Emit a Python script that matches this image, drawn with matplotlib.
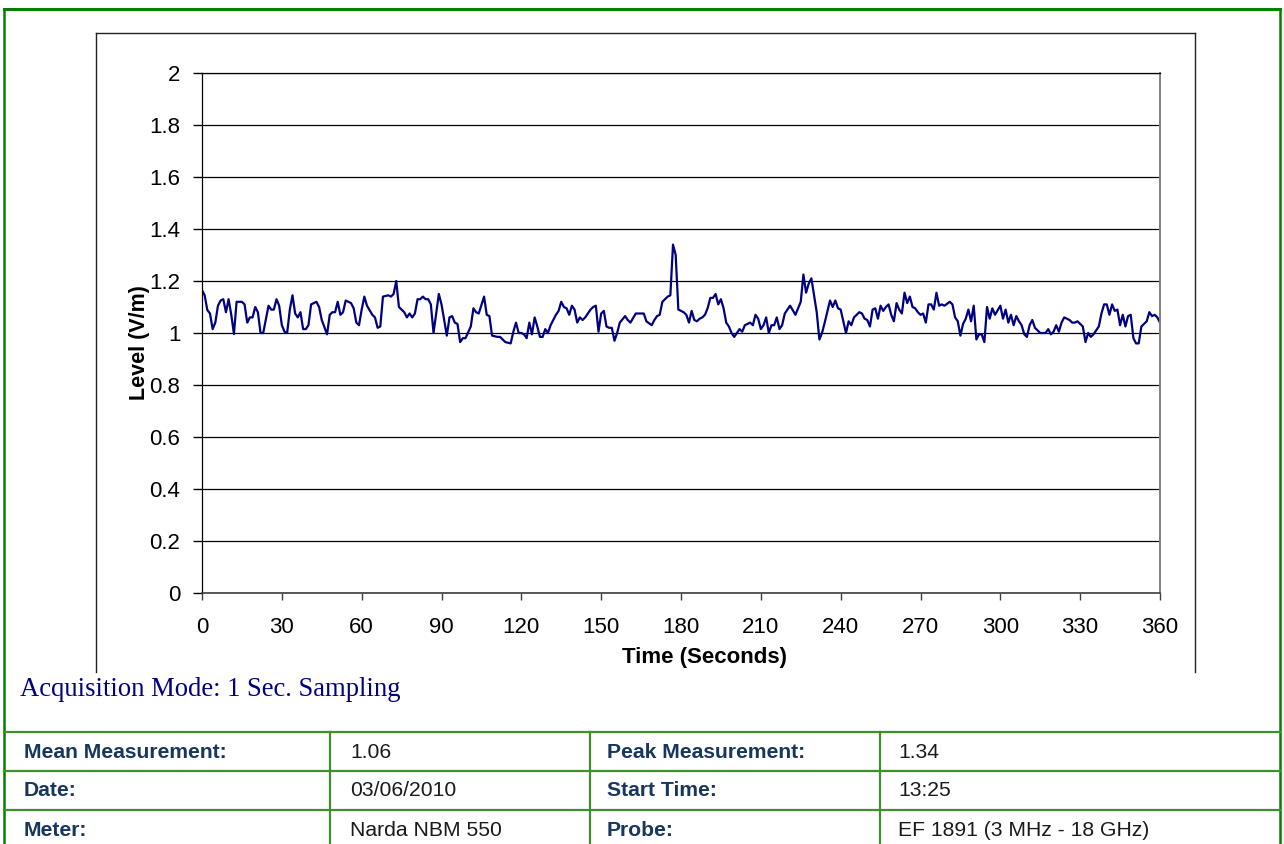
import matplotlib.pyplot as plt
from matplotlib.ticker import FuncFormatter

# field level readings (V/m) against time (s)
time_s = [0, 1, 2, 3, 4, 5, 6, 7, 8, 9, 10, 11, 12, 13, 15, 16, 17, 18, 19, 20,
          21, 22, 23, 25, 26, 27, 28, 29, 30, 31, 32, 33, 34, 35, 36, 37, 38, 39, 40, 41,
          43, 44, 45, 47, 48, 49, 50, 51, 52, 53, 54, 56, 57, 58, 59, 60, 61, 62, 64, 65,
          66, 67, 68, 70, 71, 72, 73, 74, 76, 77, 78, 79, 80, 81, 82, 83, 84, 85, 86, 87,
          89, 90, 92, 93, 94, 95, 96, 97, 98, 99, 101, 102, 103, 104, 106, 107, 108, 109, 111, 112,
          113, 114, 116, 117, 118, 119, 120, 121, 122, 123, 124, 125, 126, 127, 128, 129, 130, 131, 133, 134,
          135, 136, 137, 138, 139, 140, 141, 142, 143, 144, 145, 146, 147, 148, 149, 150, 151, 152, 153, 154,
          155, 156, 157, 159, 160, 161, 163, 164, 166, 167, 169, 170, 171, 172, 173, 175, 176, 177, 178, 179,
          180, 181, 182, 183, 184, 185, 186, 187, 188, 189, 190, 191, 192, 193, 194, 195, 196, 197, 198, 199,
          200, 201, 202, 203, 204, 206, 207, 208, 209, 210, 211, 212, 213, 214, 215, 216, 217, 218, 219, 221,
          223, 225, 226, 227, 228, 229, 230, 231, 232, 233, 234, 236, 237, 238, 239, 240, 242, 243, 244, 245,
          247, 248, 249, 250, 251, 252, 253, 254, 255, 256, 257, 258, 259, 260, 261, 262, 263, 264, 265, 266,
          267, 268, 269, 270, 271, 272, 273, 274, 275, 276, 277, 278, 279, 281, 282, 283, 284, 285, 286, 287,
          288, 289, 290, 291, 292, 293, 294, 295, 296, 297, 298, 300, 301, 302, 303, 304, 305, 306, 307, 308,
          309, 310, 311, 312, 313, 315, 317, 318, 319, 320, 321, 322, 323, 324, 326, 327, 328, 329, 331, 332,
          333, 334, 335, 336, 337, 338, 339, 340, 341, 342, 343, 344, 345, 346, 347, 348, 349, 350, 351, 352,
          353, 355, 356, 357, 358, 359, 360]
level_vm = [1.165, 1.145, 1.088, 1.075, 1.015, 1.04, 1.105, 1.125, 1.13, 1.08, 1.13, 1.07, 0.996, 1.12, 1.12, 1.11, 1.04, 1.06, 1.06, 1.10,
            1.08, 1.0, 1.0, 1.105, 1.09, 1.09, 1.13, 1.105, 1.03, 1.005, 1.0, 1.09, 1.145, 1.075, 1.06, 1.08, 1.015, 1.015, 1.03, 1.11,
            1.12, 1.10, 1.05, 0.995, 1.07, 1.08, 1.08, 1.12, 1.07, 1.08, 1.125, 1.115, 1.095, 1.04, 1.03, 1.09, 1.14, 1.105, 1.07, 1.06,
            1.02, 1.025, 1.14, 1.145, 1.14, 1.15, 1.20, 1.10, 1.08, 1.06, 1.075, 1.06, 1.075, 1.13, 1.13, 1.14, 1.13, 1.13, 1.11, 1.0,
            1.15, 1.11, 0.99, 1.06, 1.065, 1.04, 1.035, 0.965, 0.98, 0.98, 1.025, 1.095, 1.08, 1.075, 1.14, 1.07, 1.065, 0.99, 0.985, 0.985,
            0.975, 0.965, 0.96, 1.005, 1.04, 1.0, 1.0, 0.995, 0.98, 1.04, 0.995, 1.06, 1.025, 0.985, 0.985, 1.015, 1.0, 1.03, 1.07, 1.085,
            1.12, 1.10, 1.095, 1.07, 1.105, 1.09, 1.04, 1.06, 1.05, 1.06, 1.075, 1.09, 1.10, 1.105, 1.005, 1.075, 1.085, 1.025, 1.02, 1.02,
            0.97, 1.0, 1.04, 1.065, 1.05, 1.04, 1.075, 1.075, 1.075, 1.045, 1.03, 1.05, 1.065, 1.07, 1.12, 1.14, 1.145, 1.34, 1.30, 1.09,
            1.085, 1.08, 1.07, 1.04, 1.085, 1.05, 1.045, 1.055, 1.06, 1.07, 1.095, 1.135, 1.135, 1.15, 1.11, 1.13, 1.095, 1.04, 1.025, 1.0,
            0.985, 1.0, 1.015, 1.005, 1.03, 1.04, 1.03, 1.07, 1.055, 1.015, 1.03, 1.06, 1.0, 1.03, 1.03, 1.06, 1.015, 1.03, 1.075, 1.105,
            1.07, 1.12, 1.225, 1.155, 1.19, 1.21, 1.145, 1.08, 0.975, 1.0, 1.04, 1.125, 1.10, 1.125, 1.095, 1.09, 1.0, 1.045, 1.03, 1.06,
            1.08, 1.075, 1.055, 1.05, 1.025, 1.09, 1.095, 1.055, 1.105, 1.085, 1.10, 1.11, 1.07, 1.045, 1.115, 1.09, 1.075, 1.155, 1.115, 1.14,
            1.10, 1.095, 1.08, 1.07, 1.075, 1.04, 1.11, 1.11, 1.09, 1.155, 1.105, 1.11, 1.105, 1.12, 1.11, 1.06, 1.045, 0.99, 1.035, 1.055,
            1.09, 1.045, 1.105, 0.975, 0.995, 0.995, 0.965, 1.10, 1.055, 1.095, 1.07, 1.105, 1.055, 1.09, 1.04, 1.07, 1.03, 1.065, 1.045, 1.03,
            0.995, 0.985, 1.03, 1.05, 1.02, 1.0, 1.0, 1.015, 0.995, 1.005, 1.03, 1.005, 1.04, 1.06, 1.05, 1.04, 1.04, 1.045, 1.025, 0.965,
            1.0, 0.985, 0.995, 1.01, 1.025, 1.075, 1.11, 1.11, 1.07, 1.11, 1.085, 1.09, 1.03, 1.07, 1.025, 1.065, 1.07, 0.98, 0.96, 0.96,
            1.025, 1.045, 1.08, 1.065, 1.07, 1.06, 1.04]

x_ticks = list(range(0, 361, 30))
y_ticks = [0, 0.2, 0.4, 0.6, 0.8, 1.0, 1.2, 1.4, 1.6, 1.8, 2.0]

acq_text = "Acquisition Mode: 1 Sec. Sampling"
table_rows = [
    ["Mean Measurement:", "1.06", "Peak Measurement:", "1.34"],
    ["Date:", "03/06/2010", "Start Time:", "13:25"],
    ["Meter:", "Narda NBM 550", "Probe:", "EF 1891 (3 MHz - 18 GHz)"],
]

W, H = 1284, 844
plt.rcParams['font.family'] = ['Liberation Sans', 'DejaVu Sans']
fig = plt.figure(figsize=(W / 100, H / 100), dpi=100)

# page layer in pixel coordinates (borders, caption, table)
page = fig.add_axes([0, 0, 1, 1], zorder=0)
page.set_xlim(0, W)
page.set_ylim(H, 0)
page.axis('off')

green = '#008000'
page.plot([4, 1280], [9, 9], color=green, lw=2.2)
page.plot([4, 4], [9, H], color=green, lw=1.8)
page.plot([1280, 1280], [9, H], color=green, lw=1.8)

# chart frame
frame_c = '#222222'
page.plot([96, 1195], [33, 33], color=frame_c, lw=1)
page.plot([96, 96], [33, 672], color=frame_c, lw=1)
page.plot([1195, 1195], [33, 672], color=frame_c, lw=1)

page.text(20, 690, acq_text, fontsize=19.2, color='#000080',
          family=['Liberation Serif', 'DejaVu Serif'], va='center', ha='left')

# table
tgreen = '#3f8f2a'
row_lines = [732, 771, 810]
col_lines = [330, 590, 880]
for y in row_lines:
    page.plot([4, 1280], [y, y], color=tgreen, lw=1.6)
for x in col_lines:
    page.plot([x, x], [732, H], color=tgreen, lw=1.6)
col_x = [24, 350, 607, 898]
row_y = [752, 791, 830]
for r, row in enumerate(table_rows):
    for c, txt in enumerate(row):
        if c % 2 == 0:
            page.text(col_x[c], row_y[r], txt, fontsize=15.2, fontweight='bold',
                      color='#17375e', va='center', ha='left')
        else:
            page.text(col_x[c], row_y[r], txt, fontsize=15.2,
                      color='#1a1a1a', va='center', ha='left')

# chart
ax = fig.add_axes([202 / W, 1 - 593 / H, 958 / W, 520 / H], zorder=1)
ax.plot(time_s, level_vm, color='#000080', lw=1.6)
ax.set_xlim(0, 360)
ax.set_ylim(0, 2)
ax.set_xticks(x_ticks)
ax.set_yticks(y_ticks)
ax.yaxis.set_major_formatter(FuncFormatter(lambda v, p: f'{v:g}'))
ax.grid(axis='y', color='black', lw=0.9)
ax.set_axisbelow(True)
ax.tick_params(axis='x', labelsize=16, length=5, width=1, color='#404040', pad=12)
ax.tick_params(axis='y', labelsize=16, length=6.5, width=1, color='black', pad=9)
for side in ['left', 'top']:
    ax.spines[side].set_color('black')
    ax.spines[side].set_linewidth(0.9)
ax.spines['bottom'].set_color('#404040')
ax.spines['bottom'].set_linewidth(1.2)
ax.spines['right'].set_color('#808080')
ax.spines['right'].set_linewidth(1.4)

ax.set_xlabel('Time (Seconds)', fontsize=16, fontweight='bold')
ax.set_ylabel('Level (V/m)', fontsize=15.5, fontweight='bold')
ax.xaxis.set_label_coords((705 - 202) / 958, (593 - 647) / 520)
ax.yaxis.set_label_coords((150 - 202) / 958, (593 - 343) / 520)

fig.savefig('out.png', dpi=100)
